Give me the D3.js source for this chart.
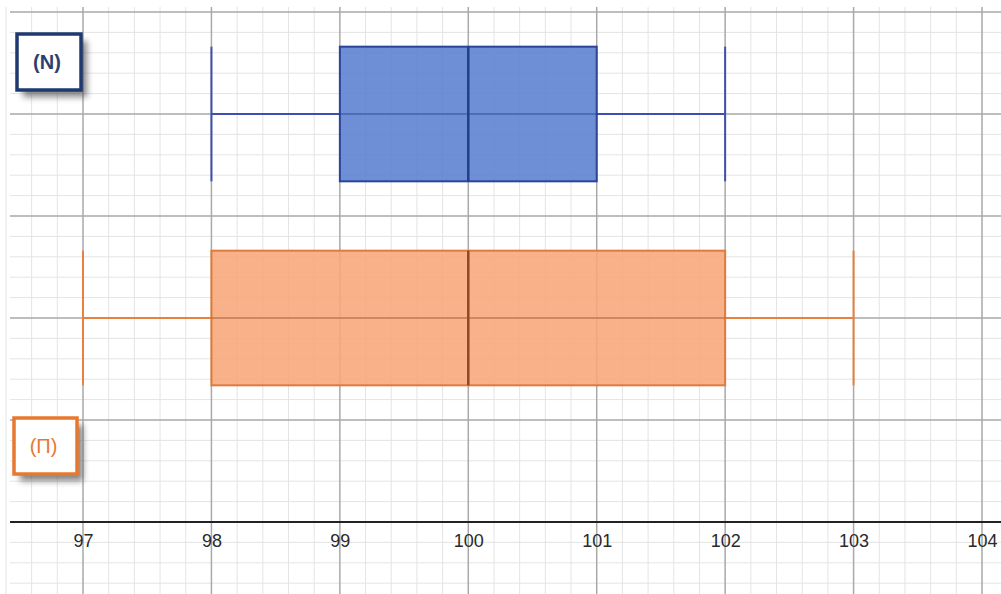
<!DOCTYPE html>
<html><head><meta charset="utf-8">
<script src="https://cdn.jsdelivr.net/npm/d3@7"></script>
<style>body{margin:0;background:#fff}svg{display:block}</style>
</head><body>
<svg id="c" width="1001" height="594"></svg>
<script>
const tickLabels = [97, 98, 99, 100, 101, 102, 103, 104];
const seriesNames = ["(N)", "(П)"];
const seriesMin = [98, 97];
const seriesQ1 = [99, 98];
const seriesMedian = [100, 100];
const seriesQ3 = [101, 102];
const seriesMax = [102, 103];
const seriesRow = [4, 2];

const W = 1001, H = 594;
const svg = d3.select("#c");
const x = d3.scaleLinear().domain([97, 104]).range([83, 982]);
const y = d3.scaleLinear().domain([0, 5]).range([522, 12]);

const strokeC = ["#3d4fb0", "#e8803f"];
const fillC = ["#5a7fd0", "#f7a677"];
const edgeC = ["#2a449a", "#e07a3c"];
const medC = ["#243c8c", "#8a4a25"];
const labelC = ["#2c3f6e", "#e8782f"];
const boxC = ["#1f3a6e", "#e8782f"];

// minor grid
const xMinor = d3.range(96.4, 104.2, 0.2).filter(v => Math.abs(v - Math.round(v)) > 0.01);
const yMinorAll = d3.range(-0.8, 5.2, 0.2).filter(v => Math.abs(v - Math.round(v)) > 0.01);
const g = svg.append("g");
g.selectAll(".vm").data(xMinor).join("line")
  .attr("x1", d => x(d)).attr("x2", d => x(d)).attr("y1", 7).attr("y2", H)
  .attr("stroke", "#e4e4e4").attr("stroke-width", 1);
g.selectAll(".hm").data(yMinorAll).join("line")
  .attr("x1", 10).attr("x2", W).attr("y1", d => y(d)).attr("y2", d => y(d))
  .attr("stroke", "#e4e4e4").attr("stroke-width", 1);
// major grid
g.selectAll(".vM").data(d3.range(97, 105)).join("line")
  .attr("x1", d => x(d)).attr("x2", d => x(d)).attr("y1", 7).attr("y2", H)
  .attr("stroke", "#a9a9a9").attr("stroke-width", 1.5);
g.selectAll(".hM").data(d3.range(1, 6)).join("line")
  .attr("x1", 10).attr("x2", W).attr("y1", d => y(d)).attr("y2", d => y(d))
  .attr("stroke", "#a9a9a9").attr("stroke-width", 1.5);

// axis
const axis = d3.axisBottom(x).tickValues(tickLabels).tickSize(0).tickPadding(12)
  .tickFormat(d3.format("d"));
const ax = svg.append("g").attr("transform", `translate(0,${y(0)})`).call(axis);
ax.select(".domain").remove();
ax.append("line").attr("x1", 10).attr("x2", W).attr("stroke", "#222").attr("stroke-width", 2);
ax.selectAll("text").attr("font-family", "Liberation Sans, Arial, sans-serif")
  .attr("font-size", 18).attr("fill", "#2a2a2a");

// boxes
const halfH = 0.66;
seriesNames.forEach((n, i) => {
  const row = seriesRow[i];
  const bg = svg.append("g");
  const top = y(row + halfH), bot = y(row - halfH);
  bg.append("line").attr("x1", x(seriesMin[i])).attr("x2", x(seriesQ1[i]))
    .attr("y1", y(row)).attr("y2", y(row)).attr("stroke", strokeC[i]).attr("stroke-width", 2);
  bg.append("line").attr("x1", x(seriesQ3[i])).attr("x2", x(seriesMax[i]))
    .attr("y1", y(row)).attr("y2", y(row)).attr("stroke", strokeC[i]).attr("stroke-width", 2);
  [seriesMin[i], seriesMax[i]].forEach(v => {
    bg.append("line").attr("x1", x(v)).attr("x2", x(v)).attr("y1", top).attr("y2", bot)
      .attr("stroke", strokeC[i]).attr("stroke-width", 2);
  });
  bg.append("rect").attr("x", x(seriesQ1[i])).attr("y", top)
    .attr("width", x(seriesQ3[i]) - x(seriesQ1[i])).attr("height", bot - top)
    .attr("fill", fillC[i]).attr("fill-opacity", 0.88)
    .attr("stroke", edgeC[i]).attr("stroke-width", 2);
  bg.append("line").attr("x1", x(seriesQ1[i])).attr("x2", x(seriesQ3[i]))
    .attr("y1", y(row)).attr("y2", y(row)).attr("stroke", medC[i]).attr("stroke-opacity", 0.45).attr("stroke-width", 1.5);
  bg.append("line").attr("x1", x(seriesMedian[i])).attr("x2", x(seriesMedian[i]))
    .attr("y1", top).attr("y2", bot).attr("stroke", medC[i]).attr("stroke-width", 2.5);
});

// label boxes
const defs = svg.append("defs");
defs.append("filter").attr("id", "sh").attr("x", "-30%").attr("y", "-30%").attr("width", "170%").attr("height", "170%")
  .append("feGaussianBlur").attr("stdDeviation", 3);
const lb = [{x: 17, y: 34, w: 64, h: 56}, {x: 14, y: 418, w: 63, h: 56}];
seriesNames.forEach((n, i) => {
  const b = lb[i];
  svg.append("rect").attr("x", b.x + 6).attr("y", b.y + 7).attr("width", b.w).attr("height", b.h)
    .attr("fill", "#555").attr("opacity", 0.7).attr("filter", "url(#sh)");
  svg.append("rect").attr("x", b.x).attr("y", b.y).attr("width", b.w).attr("height", b.h)
    .attr("fill", "#fff").attr("stroke", boxC[i]).attr("stroke-width", 3.5);
  svg.append("text").attr("x", b.x + b.w / 2 - 2).attr("y", b.y + b.h / 2 + 7)
    .attr("text-anchor", "middle").attr("font-family", "Liberation Sans, Arial, sans-serif")
    .attr("font-size", 20).attr("font-weight", i === 0 ? "bold" : "normal")
    .attr("fill", labelC[i]).text(n);
});
</script>
</body></html>
